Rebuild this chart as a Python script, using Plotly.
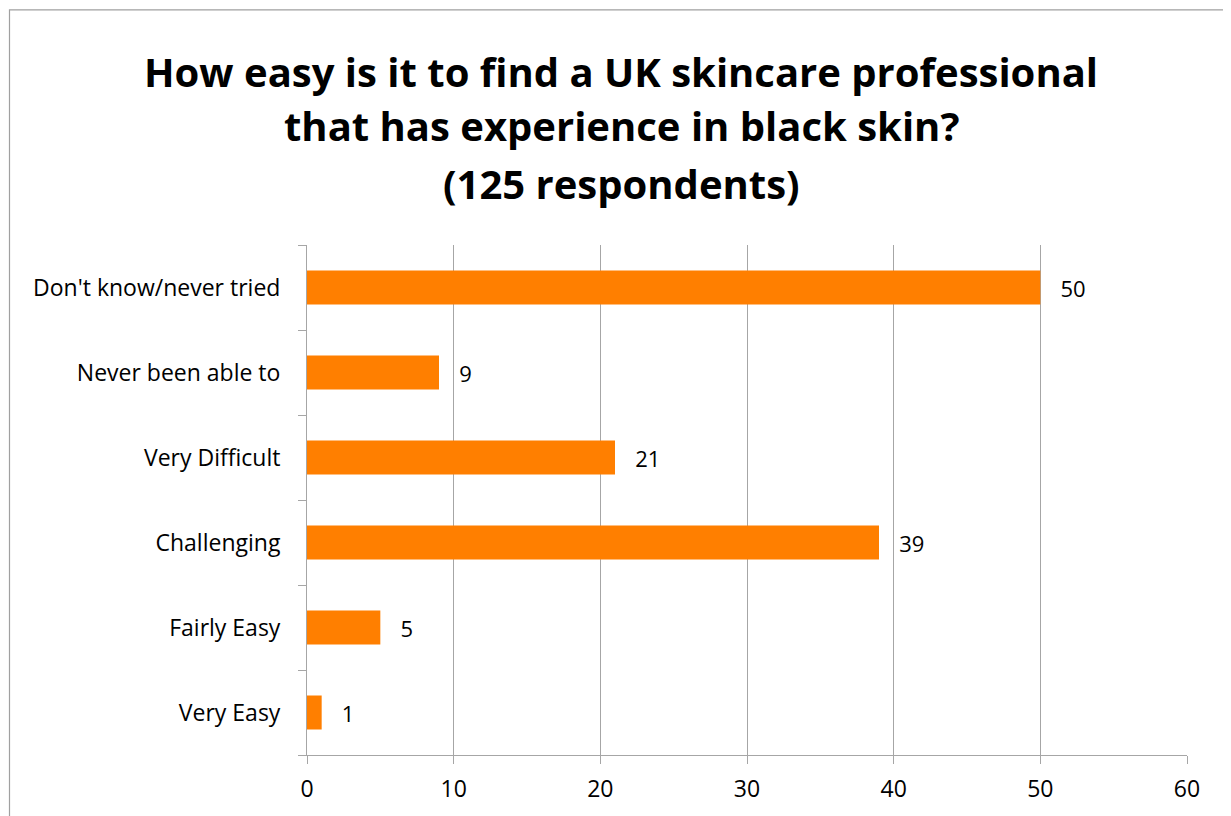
import plotly.graph_objects as go

categories = ["Very Easy", "Fairly Easy", "Challenging", "Very Difficult", "Never been able to", "Don't know/never tried"]
values = [1, 5, 39, 21, 9, 50]
x_ticks = [0, 10, 20, 30, 40, 50, 60]
title_lines = ["How easy is it to find a UK skincare professional",
               "that has experience in black skin?",
               "(125 respondents)"]

W, H = 1223, 808
L, R, T, B = 299, 44, 237, 58
pw, ph = W - L - R, H - T - B

fig = go.Figure()
fig.add_trace(go.Bar(
    y=categories, x=values, orientation="h",
    marker=dict(color="#FF7F00", line=dict(width=0)),
    text=values, texttemplate="\u00a0\u00a0\u00a0%{x}", textposition="outside",
    textfont=dict(family="Open Sans", size=22, color="#000000"),
    cliponaxis=False,
))

title_centers_px = [62, 117, 175]
annotations = [
    dict(text="<b>%s</b>" % line, xref="paper", yref="paper",
         x=(613 - L) / pw, y=(ph + T - cy) / ph, xanchor="center", yanchor="middle",
         showarrow=False, font=dict(family="Open Sans", size=40, color="#000000"))
    for line, cy in zip(title_lines, title_centers_px)
]

fig.update_layout(
    width=W, height=H,
    margin=dict(l=L, r=R, t=T, b=B, pad=0),
    paper_bgcolor="white", plot_bgcolor="white",
    bargap=0.6, showlegend=False,
    font=dict(family="Open Sans", size=22, color="#000000"),
    annotations=annotations,
    xaxis=dict(
        range=[0, 60], tickvals=x_ticks, ticktext=[str(v) for v in x_ticks],
        showgrid=True, gridcolor="#A6A6A6", gridwidth=1,
        showline=True, linecolor="#A6A6A6", linewidth=1,
        ticks="outside", ticklen=8, tickcolor="#A6A6A6",
        zeroline=False, ticklabelstandoff=5,
        tickfont=dict(family="Open Sans", size=23, color="#000000"),
    ),
    yaxis=dict(
        categoryorder="array", categoryarray=categories,
        showgrid=False, showline=True, linecolor="#A6A6A6", linewidth=1,
        ticks="outside", ticklen=8, tickcolor="#A6A6A6", tickson="boundaries",
        ticklabelstandoff=21,
        tickfont=dict(family="Open Sans", size=23, color="#000000"),
    ),
    shapes=[dict(
        type="rect", xref="paper", yref="paper",
        x0=(1.5 - L) / pw, x1=(W + 20 - L) / pw,
        y0=-(B + 20) / ph, y1=(ph + T - 0.5) / ph,
        line=dict(color="#A0A0A0", width=1.2), fillcolor="rgba(0,0,0,0)", layer="below",
    )],
)

fig.write_html("out.html")
